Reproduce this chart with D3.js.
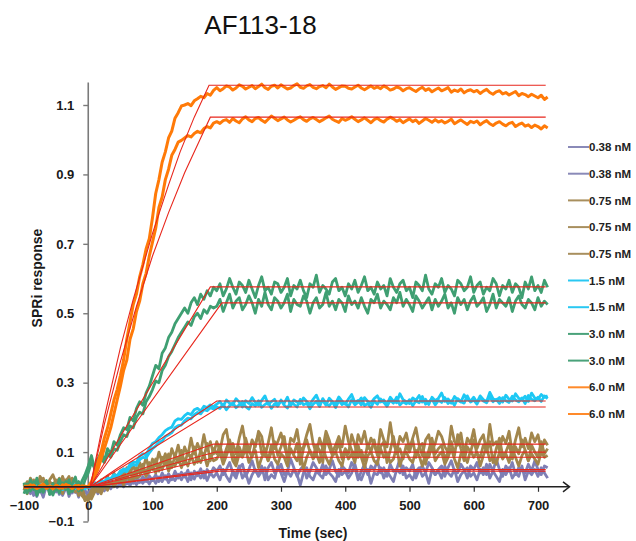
<!DOCTYPE html>
<html>
<head>
<meta charset="utf-8">
<script src="https://cdn.jsdelivr.net/npm/d3@7"></script>
<style>
  body { margin: 0; background: #fff; }
  svg { display: block; }
  text { font-family: "Liberation Sans", Arial, sans-serif; }
</style>
</head>
<body>
<svg id="chart" width="636" height="541"></svg>
<script>
// Sensorgram samples every 5 s, from -100 s to 715 s
const times = d3.range(-100, 720, 5);

const seriesLabels = ["0.38 nM", "0.38 nM", "0.75 nM", "0.75 nM", "0.75 nM",
                      "1.5 nM", "1.5 nM", "3.0 nM", "3.0 nM", "6.0 nM", "6.0 nM"];

const p1 = [
  -0.010, 0.012, -0.020, 0.005, -0.028, 0.000, -0.012, 0.015, -0.022, 0.004,
  -0.015, 0.008, -0.025, -0.005, 0.010, -0.018, 0.002, -0.030, 0.006, -0.012,
  -0.020, 0.000, -0.015, 0.005, -0.010, 0.012, -0.005, 0.015, 0.000, 0.018,
  0.005, 0.020, 0.008, 0.025, 0.010, 0.028, 0.012, 0.030, 0.015, 0.032,
  0.018, 0.035, 0.015, 0.040, 0.022, 0.038, 0.020, 0.045, 0.025, 0.042,
  0.028, 0.048, 0.020, 0.045, 0.032, 0.052, 0.025, 0.050, 0.035, 0.055,
  0.045, 0.060, 0.035, 0.050, 0.070, 0.040, 0.025, 0.055, 0.065, 0.030,
  0.050, 0.075, 0.045, 0.035, 0.060, 0.020, 0.055, 0.070, 0.040, 0.050,
  0.065, 0.035, 0.045, 0.080, 0.055, 0.030, 0.050, 0.060, 0.025, 0.045,
  0.070, 0.055, 0.040, 0.065, 0.035, 0.050, 0.075, 0.045, 0.030, 0.060,
  0.050, 0.040, 0.070, 0.055, 0.020, 0.045, 0.065, 0.035, 0.060, 0.050,
  0.075, 0.040, 0.055, 0.030, 0.065, 0.045, 0.050, 0.080, 0.035, 0.055,
  0.045, 0.065, 0.025, 0.050, 0.060, 0.040, 0.070, 0.055, 0.035, 0.050,
  0.060, 0.030, 0.055, 0.075, 0.045, 0.040, 0.065, 0.050, 0.025, 0.060,
  0.050, 0.070, 0.040, 0.055, 0.035, 0.065, 0.045, 0.080, 0.050, 0.030,
  0.060, 0.045, 0.070, 0.035, 0.055, 0.050, 0.040, 0.065, 0.045, 0.075,
  0.050, 0.035, 0.060, 0.055
];
const p2 = [
  0.008, -0.015, 0.002, -0.025, 0.010, -0.008, -0.030, 0.005, -0.012, -0.020,
  0.004, -0.022, -0.008, 0.010, -0.028, -0.004, -0.016, 0.006, -0.024, -0.010,
  -0.030, -0.015, 0.000, -0.020, 0.002, -0.012, 0.008, -0.006, 0.010, -0.002,
  0.012, 0.000, 0.015, 0.004, 0.018, 0.006, 0.020, 0.010, 0.024, 0.008,
  0.025, 0.010, 0.028, 0.015, 0.032, 0.012, 0.030, 0.018, 0.036, 0.020,
  0.038, 0.015, 0.040, 0.022, 0.042, 0.025, 0.045, 0.018, 0.040, 0.028,
  0.040, 0.020, 0.050, 0.030, 0.015, 0.045, 0.035, 0.060, 0.025, 0.040,
  0.010, 0.035, 0.050, 0.030, 0.045, 0.055, 0.020, 0.035, 0.025, 0.060,
  0.040, 0.015, 0.045, 0.030, 0.050, 0.035, 0.005, 0.040, 0.055, 0.030,
  0.020, 0.045, 0.035, 0.025, 0.060, 0.040, 0.030, 0.015, 0.050, 0.035,
  0.045, 0.025, 0.040, 0.065, 0.030, 0.020, 0.045, 0.050, 0.010, 0.040,
  0.035, 0.055, 0.025, 0.045, 0.030, 0.015, 0.050, 0.040, 0.060, 0.025,
  0.035, 0.020, 0.045, 0.055, 0.030, 0.040, 0.010, 0.050, 0.035, 0.045,
  0.025, 0.060, 0.040, 0.030, 0.050, 0.015, 0.035, 0.045, 0.055, 0.030,
  0.040, 0.020, 0.050, 0.035, 0.065, 0.025, 0.045, 0.030, 0.015, 0.050,
  0.035, 0.055, 0.025, 0.040, 0.030, 0.060, 0.020, 0.045, 0.035, 0.050,
  0.030, 0.055, 0.040, 0.025
];
const b1 = [
  0.010, -0.015, 0.025, 0.005, -0.010, 0.030, 0.015, -0.005, 0.020, 0.035,
  0.010, 0.025, -0.008, 0.015, 0.030, 0.000, -0.015, 0.010, -0.025, -0.035,
  -0.030, -0.010, 0.005, -0.015, 0.020, 0.000, 0.030, 0.010, 0.040, 0.015,
  0.045, 0.020, 0.055, 0.035, 0.065, 0.030, 0.070, 0.050, 0.085, 0.045,
  0.080, 0.060, 0.100, 0.070, 0.095, 0.060, 0.110, 0.085, 0.120, 0.075,
  0.115, 0.090, 0.140, 0.095, 0.125, 0.100, 0.150, 0.105, 0.130, 0.095,
  0.130, 0.105, 0.150, 0.165, 0.110, 0.125, 0.095, 0.140, 0.175, 0.120,
  0.100, 0.135, 0.115, 0.160, 0.145, 0.090, 0.125, 0.170, 0.110, 0.130,
  0.155, 0.120, 0.085, 0.140, 0.130, 0.165, 0.105, 0.115, 0.150, 0.180,
  0.125, 0.095, 0.140, 0.110, 0.160, 0.135, 0.100, 0.120, 0.145, 0.115,
  0.175, 0.130, 0.105, 0.090, 0.150, 0.125, 0.160, 0.110, 0.140, 0.120,
  0.095, 0.165, 0.135, 0.115, 0.185, 0.125, 0.100, 0.145, 0.130, 0.155,
  0.110, 0.140, 0.170, 0.120, 0.090, 0.135, 0.150, 0.105, 0.125, 0.160,
  0.145, 0.115, 0.100, 0.175, 0.130, 0.120, 0.155, 0.095, 0.140, 0.125,
  0.165, 0.110, 0.135, 0.150, 0.100, 0.180, 0.120, 0.130, 0.105, 0.145,
  0.125, 0.160, 0.095, 0.135, 0.170, 0.115, 0.140, 0.110, 0.155, 0.130,
  0.150, 0.105, 0.135, 0.120
];
const b2 = [
  -0.010, 0.015, 0.000, 0.020, -0.015, 0.010, 0.025, -0.005, 0.015, 0.005,
  0.020, -0.010, 0.030, 0.005, -0.005, 0.025, 0.010, -0.020, 0.000, -0.030,
  -0.040, -0.020, -0.005, 0.010, -0.010, 0.015, 0.005, 0.025, 0.000, 0.030,
  0.015, 0.040, 0.025, 0.050, 0.020, 0.055, 0.040, 0.065, 0.035, 0.070,
  0.050, 0.080, 0.045, 0.085, 0.065, 0.095, 0.055, 0.090, 0.070, 0.105,
  0.065, 0.100, 0.080, 0.115, 0.070, 0.105, 0.085, 0.125, 0.075, 0.110,
  0.095, 0.120, 0.080, 0.110, 0.135, 0.100, 0.070, 0.115, 0.090, 0.140,
  0.105, 0.085, 0.125, 0.150, 0.095, 0.110, 0.075, 0.100, 0.130, 0.090,
  0.115, 0.145, 0.080, 0.105, 0.095, 0.125, 0.065, 0.110, 0.135, 0.100,
  0.085, 0.120, 0.105, 0.070, 0.140, 0.115, 0.090, 0.100, 0.130, 0.080,
  0.110, 0.095, 0.150, 0.120, 0.085, 0.105, 0.075, 0.125, 0.100, 0.135,
  0.090, 0.115, 0.130, 0.070, 0.105, 0.145, 0.095, 0.110, 0.080, 0.120,
  0.100, 0.135, 0.085, 0.115, 0.125, 0.065, 0.105, 0.140, 0.095, 0.110,
  0.120, 0.080, 0.100, 0.130, 0.090, 0.150, 0.110, 0.075, 0.115, 0.100,
  0.135, 0.095, 0.085, 0.120, 0.105, 0.130, 0.070, 0.110, 0.140, 0.090,
  0.100, 0.125, 0.080, 0.115, 0.095, 0.135, 0.105, 0.075, 0.120, 0.100,
  0.085, 0.130, 0.095, 0.110
];
const b3 = [
  0.005, -0.020, 0.010, -0.005, 0.020, -0.010, 0.000, 0.015, -0.015, 0.010,
  -0.005, 0.015, -0.020, 0.020, 0.005, -0.010, 0.015, -0.025, -0.015, -0.040,
  -0.025, -0.035, -0.015, -0.005, -0.020, 0.005, -0.010, 0.015, 0.005, 0.010,
  0.025, 0.005, 0.030, 0.015, 0.040, 0.025, 0.030, 0.050, 0.030, 0.045,
  0.060, 0.040, 0.065, 0.050, 0.075, 0.045, 0.070, 0.060, 0.085, 0.055,
  0.080, 0.060, 0.090, 0.065, 0.085, 0.070, 0.095, 0.060, 0.090, 0.075,
  0.080, 0.100, 0.065, 0.090, 0.115, 0.075, 0.060, 0.095, 0.085, 0.110,
  0.070, 0.090, 0.105, 0.055, 0.085, 0.100, 0.075, 0.120, 0.080, 0.065,
  0.095, 0.085, 0.060, 0.110, 0.090, 0.075, 0.100, 0.050, 0.085, 0.105,
  0.080, 0.095, 0.070, 0.115, 0.085, 0.065, 0.090, 0.100, 0.075, 0.060,
  0.105, 0.080, 0.095, 0.070, 0.120, 0.085, 0.055, 0.090, 0.100, 0.075,
  0.065, 0.110, 0.085, 0.095, 0.070, 0.080, 0.115, 0.060, 0.090, 0.100,
  0.080, 0.070, 0.105, 0.090, 0.060, 0.095, 0.085, 0.120, 0.075, 0.090,
  0.100, 0.065, 0.085, 0.110, 0.080, 0.055, 0.095, 0.090, 0.070, 0.105,
  0.085, 0.100, 0.060, 0.090, 0.115, 0.075, 0.085, 0.065, 0.100, 0.080,
  0.095, 0.070, 0.110, 0.085, 0.060, 0.090, 0.105, 0.075, 0.095, 0.080,
  0.065, 0.100, 0.085, 0.090
];
const c1 = [
  0.004, -0.006, 0.008, -0.002, 0.005, -0.008, 0.002, 0.007, -0.004, 0.003,
  -0.005, 0.006, 0.001, -0.007, 0.004, -0.002, 0.008, -0.004, 0.002, -0.006,
  0.000, 0.004, 0.012, 0.008, 0.018, 0.015, 0.025, 0.022, 0.035, 0.032,
  0.045, 0.052, 0.048, 0.065, 0.072, 0.070, 0.088, 0.095, 0.092, 0.110,
  0.125, 0.130, 0.142, 0.150, 0.162, 0.168, 0.172, 0.190, 0.196, 0.194,
  0.205, 0.212, 0.208, 0.222, 0.226, 0.218, 0.232, 0.228, 0.236, 0.231,
  0.238, 0.246, 0.232, 0.250, 0.241, 0.236, 0.254, 0.244, 0.230, 0.248,
  0.240, 0.257, 0.243, 0.235, 0.249, 0.262, 0.238, 0.245, 0.252, 0.236,
  0.247, 0.241, 0.258, 0.233, 0.250, 0.244, 0.239, 0.256, 0.246, 0.237,
  0.252, 0.264, 0.242, 0.248, 0.235, 0.255, 0.245, 0.240, 0.259, 0.247,
  0.238, 0.253, 0.266, 0.243, 0.249, 0.236, 0.257, 0.246, 0.241, 0.254,
  0.262, 0.244, 0.250, 0.238, 0.258, 0.247, 0.242, 0.268, 0.251, 0.245,
  0.240, 0.256, 0.249, 0.263, 0.244, 0.252, 0.237, 0.258, 0.248, 0.255,
  0.270, 0.246, 0.253, 0.241, 0.260, 0.250, 0.244, 0.265, 0.252, 0.247,
  0.258, 0.243, 0.262, 0.251, 0.246, 0.272, 0.254, 0.249, 0.257, 0.244,
  0.264, 0.252, 0.247, 0.268, 0.255, 0.250, 0.261, 0.246, 0.270, 0.256,
  0.252, 0.266, 0.258, 0.262
];
const c2 = [
  -0.003, 0.005, -0.007, 0.002, -0.004, 0.006, -0.001, -0.006, 0.004, -0.002,
  0.003, -0.004, -0.008, 0.005, -0.002, 0.007, -0.005, 0.003, -0.007, 0.001,
  -0.002, 0.002, 0.006, 0.010, 0.009, 0.016, 0.020, 0.018, 0.028, 0.030,
  0.038, 0.046, 0.044, 0.058, 0.064, 0.062, 0.078, 0.085, 0.083, 0.098,
  0.110, 0.118, 0.128, 0.132, 0.145, 0.150, 0.156, 0.170, 0.176, 0.178,
  0.190, 0.198, 0.196, 0.208, 0.214, 0.210, 0.222, 0.219, 0.228, 0.224,
  0.230, 0.226, 0.238, 0.222, 0.234, 0.242, 0.228, 0.236, 0.246, 0.231,
  0.224, 0.240, 0.233, 0.248, 0.229, 0.237, 0.244, 0.226, 0.239, 0.232,
  0.250, 0.235, 0.227, 0.243, 0.238, 0.230, 0.252, 0.236, 0.241, 0.225,
  0.238, 0.246, 0.231, 0.254, 0.240, 0.233, 0.245, 0.228, 0.248, 0.237,
  0.242, 0.230, 0.251, 0.236, 0.244, 0.256, 0.234, 0.240, 0.229, 0.247,
  0.238, 0.253, 0.243, 0.232, 0.249, 0.241, 0.258, 0.236, 0.245, 0.239,
  0.251, 0.234, 0.247, 0.242, 0.260, 0.238, 0.245, 0.253, 0.236, 0.249,
  0.243, 0.257, 0.240, 0.248, 0.235, 0.254, 0.246, 0.241, 0.262, 0.244,
  0.250, 0.238, 0.256, 0.247, 0.242, 0.259, 0.245, 0.252, 0.240, 0.257,
  0.248, 0.243, 0.261, 0.250, 0.245, 0.256, 0.240, 0.263, 0.252, 0.248,
  0.258, 0.246, 0.262, 0.254
];
const g1 = [
  0.012, -0.018, 0.020, -0.008, 0.025, -0.015, 0.005, 0.018, -0.022, 0.010,
  -0.010, 0.022, -0.005, 0.015, -0.020, 0.008, 0.028, -0.012, 0.016, 0.035,
  0.060, 0.090, 0.050, 0.080, 0.100, 0.075, 0.110, 0.095, 0.130, 0.120,
  0.150, 0.170, 0.165, 0.200, 0.190, 0.225, 0.245, 0.235, 0.270, 0.290,
  0.320, 0.350, 0.340, 0.385, 0.400, 0.430, 0.445, 0.470, 0.485, 0.500,
  0.515, 0.500, 0.530, 0.545, 0.525, 0.555, 0.540, 0.565, 0.550, 0.575,
  0.565, 0.585, 0.550, 0.570, 0.600, 0.575, 0.555, 0.590, 0.580, 0.560,
  0.595, 0.570, 0.545, 0.580, 0.605, 0.565, 0.575, 0.555, 0.590, 0.585,
  0.560, 0.575, 0.600, 0.550, 0.580, 0.570, 0.595, 0.565, 0.545, 0.585,
  0.575, 0.610, 0.560, 0.580, 0.570, 0.555, 0.590, 0.600, 0.565, 0.575,
  0.550, 0.585, 0.570, 0.595, 0.560, 0.580, 0.605, 0.565, 0.575, 0.555,
  0.590, 0.570, 0.580, 0.550, 0.600, 0.575, 0.560, 0.585, 0.595, 0.565,
  0.575, 0.545, 0.590, 0.580, 0.565, 0.610, 0.570, 0.555, 0.585, 0.575,
  0.600, 0.560, 0.580, 0.570, 0.550, 0.595, 0.585, 0.565, 0.575, 0.605,
  0.560, 0.580, 0.590, 0.555, 0.575, 0.565, 0.600, 0.585, 0.550, 0.580,
  0.570, 0.595, 0.560, 0.585, 0.575, 0.545, 0.590, 0.570, 0.605, 0.565,
  0.580, 0.560, 0.595, 0.575
];
const g2 = [
  -0.020, 0.008, -0.012, 0.015, -0.025, 0.004, -0.016, 0.010, -0.006, -0.024,
  0.006, -0.018, 0.012, -0.008, 0.020, -0.014, 0.002, 0.015, -0.010, 0.020,
  0.040, 0.070, 0.055, 0.065, 0.080, 0.070, 0.095, 0.085, 0.110, 0.105,
  0.130, 0.150, 0.145, 0.175, 0.170, 0.200, 0.215, 0.210, 0.245, 0.260,
  0.280, 0.305, 0.300, 0.335, 0.350, 0.375, 0.390, 0.410, 0.430, 0.445,
  0.460, 0.475, 0.465, 0.490, 0.500, 0.485, 0.510, 0.500, 0.520, 0.515,
  0.520, 0.540, 0.505, 0.530, 0.555, 0.515, 0.535, 0.545, 0.510, 0.525,
  0.550, 0.530, 0.500, 0.540, 0.520, 0.560, 0.525, 0.510, 0.545, 0.535,
  0.515, 0.530, 0.555, 0.505, 0.540, 0.525, 0.520, 0.550, 0.535, 0.500,
  0.530, 0.545, 0.515, 0.525, 0.560, 0.520, 0.535, 0.510, 0.540, 0.530,
  0.505, 0.550, 0.525, 0.535, 0.515, 0.545, 0.520, 0.500, 0.540, 0.530,
  0.555, 0.515, 0.535, 0.525, 0.510, 0.545, 0.530, 0.560, 0.520, 0.540,
  0.525, 0.505, 0.550, 0.535, 0.515, 0.530, 0.545, 0.510, 0.540, 0.520,
  0.535, 0.555, 0.515, 0.530, 0.500, 0.545, 0.525, 0.540, 0.510, 0.535,
  0.550, 0.520, 0.530, 0.545, 0.505, 0.525, 0.555, 0.515, 0.540, 0.530,
  0.520, 0.545, 0.505, 0.535, 0.550, 0.525, 0.515, 0.540, 0.530, 0.510,
  0.545, 0.520, 0.535, 0.525
];
const o1 = [
  0.004, -0.003, 0.006, 0.001, -0.005, 0.003, 0.008, -0.002, 0.002, -0.006,
  0.005, 0.000, -0.004, 0.007, 0.002, -0.003, 0.004, -0.006, 0.003, 0.001,
  0.000, 0.015, 0.040, 0.070, 0.100, 0.140, 0.170, 0.210, 0.250, 0.280,
  0.320, 0.365, 0.425, 0.475, 0.525, 0.555, 0.605, 0.640, 0.685, 0.715,
  0.775, 0.845, 0.885, 0.935, 0.965, 1.005, 1.025, 1.062, 1.078, 1.097,
  1.100, 1.104, 1.098, 1.112, 1.118, 1.125, 1.121, 1.133, 1.128, 1.142,
  1.150, 1.141, 1.147, 1.155, 1.152, 1.143, 1.149, 1.158, 1.154, 1.146,
  1.151, 1.156, 1.147, 1.153, 1.160, 1.150, 1.145, 1.154, 1.157, 1.149,
  1.158, 1.152, 1.146, 1.149, 1.156, 1.161, 1.151, 1.148, 1.155, 1.159,
  1.151, 1.147, 1.153, 1.156, 1.150, 1.160, 1.152, 1.145, 1.150, 1.155,
  1.154, 1.148, 1.146, 1.152, 1.157, 1.149, 1.144, 1.150, 1.155, 1.148,
  1.152, 1.147, 1.155, 1.150, 1.143, 1.146, 1.152, 1.149, 1.141, 1.147,
  1.150, 1.144, 1.139, 1.146, 1.151, 1.142, 1.147, 1.138, 1.144, 1.149,
  1.141, 1.145, 1.150, 1.137, 1.143, 1.139, 1.146, 1.135, 1.141, 1.144,
  1.138, 1.142, 1.133, 1.140, 1.145, 1.136, 1.131, 1.138, 1.141, 1.132,
  1.136, 1.129, 1.134, 1.139, 1.127, 1.133, 1.130, 1.124, 1.131, 1.126,
  1.121, 1.128, 1.116, 1.123
];
const o2 = [
  -0.004, 0.002, -0.001, 0.005, -0.003, 0.000, 0.004, -0.005, 0.003, -0.002,
  0.001, -0.004, 0.006, -0.001, 0.003, -0.005, 0.002, 0.004, -0.003, 0.002,
  0.000, 0.010, 0.030, 0.050, 0.080, 0.110, 0.140, 0.170, 0.210, 0.250,
  0.290, 0.335, 0.365, 0.425, 0.455, 0.505, 0.535, 0.585, 0.615, 0.665,
  0.705, 0.745, 0.805, 0.835, 0.885, 0.915, 0.955, 0.972, 0.993, 0.998,
  1.005, 1.012, 1.008, 1.018, 1.024, 1.020, 1.032, 1.038, 1.034, 1.048,
  1.052, 1.047, 1.055, 1.058, 1.050, 1.061, 1.054, 1.049, 1.060, 1.066,
  1.057, 1.052, 1.061, 1.064, 1.056, 1.050, 1.059, 1.068, 1.062, 1.055,
  1.060, 1.065, 1.057, 1.051, 1.056, 1.062, 1.066, 1.058, 1.053, 1.060,
  1.064, 1.058, 1.052, 1.057, 1.063, 1.068, 1.059, 1.054, 1.050, 1.061,
  1.056, 1.060, 1.066, 1.059, 1.052, 1.057, 1.063, 1.056, 1.049, 1.058,
  1.062, 1.055, 1.051, 1.059, 1.065, 1.060, 1.053, 1.058, 1.049, 1.055,
  1.060, 1.052, 1.057, 1.047, 1.054, 1.061, 1.056, 1.050, 1.058, 1.051,
  1.055, 1.048, 1.053, 1.059, 1.046, 1.052, 1.057, 1.050, 1.044, 1.053,
  1.049, 1.054, 1.043, 1.050, 1.055, 1.046, 1.041, 1.048, 1.052, 1.045,
  1.040, 1.047, 1.050, 1.038, 1.044, 1.048, 1.039, 1.043, 1.035, 1.042,
  1.038, 1.031, 1.040, 1.034
];

// Model fits (time in s, response), one per trace
const fitTimes = [
  [-100, 3, 205, 712], [-100, 3, 205, 712],
  [-100, 3, 195, 712], [-100, 3, 198, 712], [-100, 3, 200, 712],
  [-100, 3, 200, 712], [-100, 3, 205, 712],
  [-100, 3, 190, 712], [-100, 3, 208, 712],
  [-100, 3, 25, 50, 70, 100, 125, 143, 165, 188, 712],
  [-100, 3, 25, 50, 75, 100, 125, 150, 175, 190, 712]
];
const fitValues = [
  [0, 0, 0.050, 0.050], [0, 0, 0.045, 0.045],
  [0, 0, 0.123, 0.123], [0, 0, 0.100, 0.100], [0, 0, 0.085, 0.085],
  [0, 0, 0.247, 0.247], [0, 0, 0.230, 0.230],
  [0, 0, 0.576, 0.576], [0, 0, 0.530, 0.530],
  [0, 0, 0.20, 0.40, 0.54, 0.73, 0.87, 0.965, 1.065, 1.157, 1.157],
  [0, 0, 0.18, 0.36, 0.52, 0.665, 0.79, 0.905, 1.005, 1.065, 1.065]
];

const xTicks = [-100, 0, 100, 200, 300, 400, 500, 600, 700];
const yTicks = [-0.1, 0.1, 0.3, 0.5, 0.7, 0.9, 1.1];

const traces = [p1, p2, b1, b2, b3, c1, c2, g1, g2, o1, o2];
const traceColors = ["#7f7fb5", "#7f7fb5", "#a2864c", "#a2864c", "#a2864c",
                     "#1ec8f4", "#1ec8f4", "#3f9f72", "#3f9f72", "#ff7a08", "#ff7a08"];
const legendColors = ["#8a8ab8", "#8a8ab8", "#a88f5e", "#a88f5e", "#a88f5e",
                      "#2ac8f2", "#2ac8f2", "#4aa27a", "#4aa27a", "#ff8a2a", "#ff8a2a"];

const svg = d3.select("#chart");

const x = d3.scaleLinear().domain([-100, 700]).range([24, 538]);
const y = d3.scaleLinear().domain([-0.1, 1.1]).range([521.5, 105]);

// Title
svg.append("text")
  .attr("x", 260.5).attr("y", 34)
  .attr("text-anchor", "middle")
  .style("font-size", "26px")
  .style("fill", "#111")
  .text("AF113-18");

// Y axis (gray)
const yAxis = svg.append("g")
  .attr("transform", `translate(${x(0)},0)`)
  .call(d3.axisLeft(y).tickValues(yTicks).tickFormat(d3.format(".1f"))
        .tickSize(5).tickPadding(9).tickSizeOuter(0));
yAxis.select(".domain").remove();
yAxis.append("line")
  .attr("x1", 0).attr("x2", 0)
  .attr("y1", y(-0.1)).attr("y2", y(1.165))
  .attr("stroke", "#7a7a7a").attr("stroke-width", 1.6);
yAxis.selectAll(".tick line").attr("stroke", "#7a7a7a").attr("stroke-width", 1.4);
yAxis.selectAll(".tick text")
  .style("font-family", "'Liberation Sans', Arial, sans-serif")
  .style("font-size", "13px").style("font-weight", "bold").style("fill", "#1a1a1a");

// X axis at zero response
const xAxis = svg.append("g")
  .attr("transform", `translate(0,${y(0)})`)
  .call(d3.axisBottom(x).tickValues(xTicks).tickFormat(d3.format("d"))
        .tickSize(5).tickPadding(9).tickSizeOuter(0));
xAxis.select(".domain").remove();
xAxis.selectAll(".tick line").attr("stroke", "#333").attr("stroke-width", 1.2);
xAxis.selectAll(".tick text")
  .style("font-family", "'Liberation Sans', Arial, sans-serif")
  .style("font-size", "13px").style("font-weight", "bold").style("fill", "#1a1a1a");

// Axis titles
svg.append("text")
  .attr("x", 313).attr("y", 538)
  .attr("text-anchor", "middle")
  .style("font-size", "14px").style("font-weight", "bold").style("fill", "#1a1a1a")
  .text("Time (sec)");
svg.append("text")
  .attr("transform", "translate(42,278) rotate(-90)")
  .attr("text-anchor", "middle")
  .style("font-size", "14px").style("font-weight", "bold").style("fill", "#1a1a1a")
  .text("SPRi response");

// Traces
const line = d3.line()
  .x((d, i) => x(times[i]))
  .y(d => y(d));

svg.append("g").selectAll("path")
  .data(traces)
  .join("path")
  .attr("d", line)
  .attr("fill", "none")
  .attr("stroke", (d, i) => traceColors[i])
  .attr("stroke-width", (d, i) => i >= 9 ? 3 : 2.8)
  .attr("stroke-linejoin", "round");

// Fitted curves
const fitLine = d3.line()
  .x(d => x(d[0]))
  .y(d => y(d[1]));
svg.append("g").selectAll("path")
  .data(fitTimes.map((ts, k) => ts.map((t, j) => [t, fitValues[k][j]])))
  .join("path")
  .attr("d", fitLine)
  .attr("fill", "none")
  .attr("stroke", "#e8261c")
  .attr("stroke-width", 1.1);

// X axis line with arrow head
const axisY = y(0);
svg.append("line")
  .attr("x1", x(-100)).attr("x2", 569)
  .attr("y1", axisY).attr("y2", axisY)
  .attr("stroke", "#222").attr("stroke-width", 1.4);
svg.append("path")
  .attr("d", `M${563},${axisY - 5}L${569.5},${axisY}L${563},${axisY + 5}`)
  .attr("fill", "none").attr("stroke", "#222").attr("stroke-width", 1.5);

// Legend
const legend = svg.append("g").selectAll("g")
  .data(seriesLabels)
  .join("g")
  .attr("transform", (d, i) => `translate(568,${147 + i * 26.7})`);
legend.append("line")
  .attr("x1", 0).attr("x2", 21)
  .attr("stroke", (d, i) => legendColors[i])
  .attr("stroke-width", 2);
legend.append("text")
  .attr("x", 21).attr("dy", "0.36em")
  .style("font-size", "11.5px").style("font-weight", "bold").style("fill", "#222")
  .text(d => d);
</script>
</body>
</html>
